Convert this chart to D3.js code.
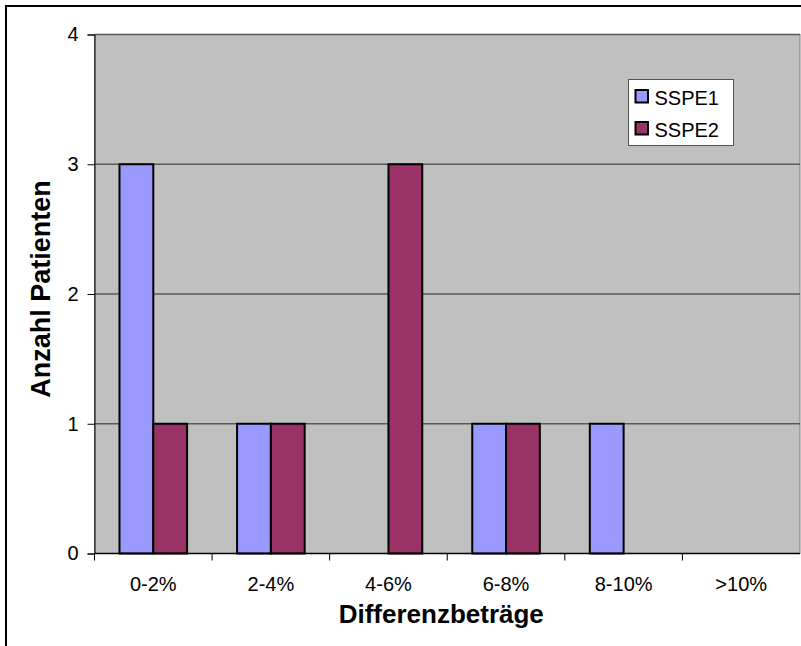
<!DOCTYPE html>
<html>
<head>
<meta charset="utf-8">
<script src="https://cdn.jsdelivr.net/npm/d3@7"></script>
<style>
  html, body { margin: 0; padding: 0; background: #fff; }
  svg { display: block; font-family: "Liberation Sans", Arial, sans-serif; }
</style>
</head>
<body>
<svg id="chart" width="801" height="646"></svg>
<script>
// Patient counts per range of difference amounts
const categories = ["0-2%", "2-4%", "4-6%", "6-8%", "8-10%", ">10%"];
const seriesNames = ["SSPE1", "SSPE2"];
const sspe1 = [3, 1, 0, 1, 1, 0];
const sspe2 = [1, 1, 3, 1, 0, 0];
const yTicks = [0, 1, 2, 3, 4];
const colors = ["#9999FF", "#993366"];

const svg = d3.select("#chart");
const W = 801, H = 646;
const plot = { left: 94.5, right: 800, top: 34.5, bottom: 553.5 };

// Outer chart frame
svg.append("rect")
  .attr("x", 6).attr("y", 6)
  .attr("width", W + 10).attr("height", H + 10)
  .attr("fill", "#fff").attr("stroke", "#000").attr("stroke-width", 2);

const x0 = d3.scaleBand().domain(categories).range([plot.left, plot.right]).padding(0);
const x1 = d3.scaleBand().domain(seriesNames)
  .range([x0.bandwidth() * 0.2126, x0.bandwidth() * 0.7874]).padding(0);
const y = d3.scaleLinear().domain([0, 4]).range([plot.bottom, plot.top]);

// Plot area background
svg.append("rect")
  .attr("x", plot.left).attr("y", plot.top)
  .attr("width", plot.right - plot.left).attr("height", plot.bottom - plot.top)
  .attr("fill", "#C0C0C0").attr("stroke", "#808080").attr("stroke-width", 1);

// Horizontal gridlines
svg.append("g")
  .selectAll("line")
  .data(yTicks.filter(t => t > 0))
  .join("line")
  .attr("x1", plot.left).attr("x2", plot.right)
  .attr("y1", d => y(d)).attr("y2", d => y(d))
  .attr("stroke", "#5a5a5a").attr("stroke-width", 1.5);

// Bars
const rows = categories.map((c, i) => ({ cat: c, values: [sspe1[i], sspe2[i]] }));
const groups = svg.append("g")
  .selectAll("g")
  .data(rows)
  .join("g")
  .attr("transform", d => `translate(${x0(d.cat)},0)`);

groups.selectAll("rect")
  .data(d => d.values.map((v, k) => ({ key: seriesNames[k], value: v, k })))
  .join("rect")
  .filter(d => d.value > 0)
  .attr("x", d => x1(d.key))
  .attr("y", d => y(d.value))
  .attr("width", x1.bandwidth())
  .attr("height", d => y(0) - y(d.value))
  .attr("fill", d => colors[d.k])
  .attr("stroke", "#000").attr("stroke-width", 2);

// Y axis
const yAxis = svg.append("g")
  .attr("transform", `translate(${plot.left},0)`)
  .call(d3.axisLeft(y).tickValues(yTicks).tickSize(7).tickPadding(9).tickFormat(d3.format("d")));
yAxis.select(".domain").attr("stroke", "#000").attr("stroke-width", 1);
yAxis.selectAll(".tick line").attr("stroke", "#000");
yAxis.selectAll("text").attr("font-size", 20).attr("fill", "#000")
  .attr("font-family", "'Liberation Sans', Arial, sans-serif");

// X axis: ticks sit at category boundaries
const boundaries = categories.map(c => x0(c));
const xAxisG = svg.append("g");
xAxisG.append("line")
  .attr("x1", plot.left).attr("x2", plot.right)
  .attr("y1", plot.bottom).attr("y2", plot.bottom)
  .attr("stroke", "#000").attr("stroke-width", 1.5);
xAxisG.selectAll("line.tk")
  .data(boundaries)
  .join("line").attr("class", "tk")
  .attr("x1", d => d).attr("x2", d => d)
  .attr("y1", plot.bottom).attr("y2", plot.bottom + 7)
  .attr("stroke", "#000");
xAxisG.selectAll("text")
  .data(categories)
  .join("text")
  .attr("x", d => x0(d) + x0.bandwidth() / 2)
  .attr("y", 591)
  .attr("text-anchor", "middle")
  .attr("font-size", 20)
  .attr("fill", "#000")
  .text(d => d);

// Axis titles
svg.append("text")
  .attr("x", (plot.left + plot.right) / 2 - 6)
  .attr("y", 623)
  .attr("text-anchor", "middle")
  .attr("font-size", 26).attr("font-weight", "bold")
  .text("Differenzbeträge");

svg.append("text")
  .attr("transform", "translate(50,289) rotate(-90)")
  .attr("text-anchor", "middle")
  .attr("font-size", 27).attr("font-weight", "bold")
  .text("Anzahl Patienten");

// Legend
const legend = svg.append("g").attr("transform", "translate(628.5,79.5)");
legend.append("rect")
  .attr("width", 105).attr("height", 66)
  .attr("fill", "#fff").attr("stroke", "#555").attr("stroke-width", 1);
const li = legend.selectAll("g.item")
  .data(seriesNames)
  .join("g").attr("class", "item")
  .attr("transform", (d, i) => `translate(0,${i * 32})`);
li.append("rect")
  .attr("x", 7).attr("y", 10.5)
  .attr("width", 12.5).attr("height", 12.5)
  .attr("fill", (d, i) => colors[i])
  .attr("stroke", "#000").attr("stroke-width", 2);
li.append("text")
  .attr("x", 26).attr("y", 25)
  .attr("font-size", 20).attr("fill", "#000")
  .text(d => d);
</script>
</body>
</html>
